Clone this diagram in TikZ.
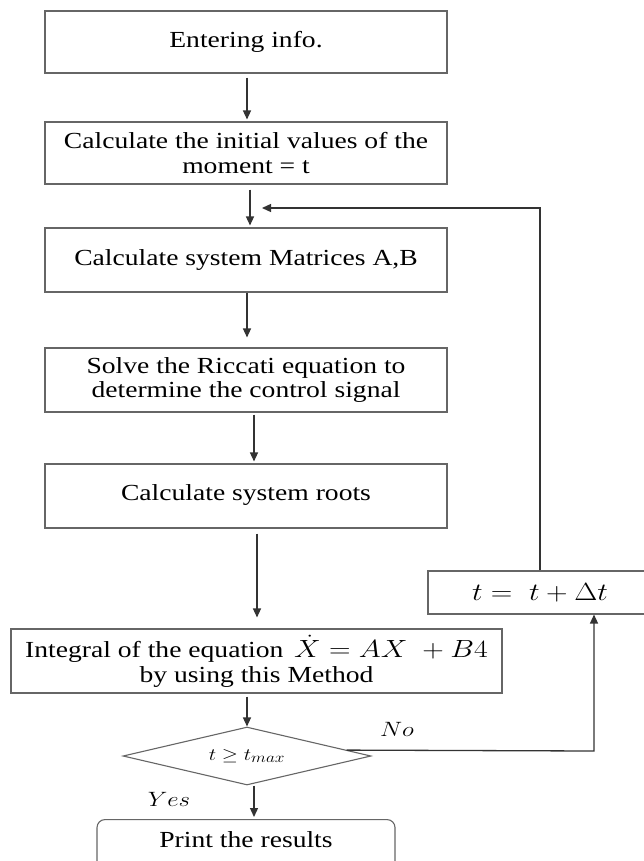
\documentclass[tikz,border=0pt]{standalone}
\usepackage{fontspec}
\setmainfont{Liberation Serif}[FakeStretch=1.2]
\usepackage{graphicx}
\usetikzlibrary{arrows.meta,shapes.geometric,calc}
\newcommand{\hs}[1]{\scalebox{1.2}[1]{#1}}
\begin{document}
\begin{tikzpicture}[x=1pt,y=-1pt,
  box/.style={draw=black!60, line width=1.1pt, rectangle, minimum width=402pt,
    minimum height=62pt, inner sep=0pt, align=center,
    font=\fontsize{23}{24.5}\selectfont},
  flow/.style={draw=black!80, line width=1.3pt, -{Triangle[length=9pt,width=8pt]}},
  lbl/.style={inner sep=0pt, font=\fontsize{21}{22}\selectfont},
]
\useasboundingbox (0,0) rectangle (643,861);
\fill[white] (0,0) rectangle (643,861);

\node[box] (b1) at (246,42) {\raisebox{5pt}{Entering info.}};
\node[box] (b2) at (246,153) {Calculate the initial values of the\\ moment = t};
\node[box, minimum height=64pt] (b3) at (246,260) {\raisebox{5pt}{Calculate system Matrices A,B}};
\node[box, minimum height=64pt] (b4) at (246,380) {Solve the Riccati equation to\\ determine the control signal};
\node[box, minimum height=64pt] (b5) at (246,496) {\raisebox{6pt}{Calculate system roots}};
\node[box, minimum width=491pt, minimum height=64pt] (b6) at (256.5,661)
  {Integral of the equation\, \hs{$\dot X = AX\ + B4$}\\ by using this Method};
\node[box, minimum width=224pt, minimum height=43pt] (tb) at (540,592.5) {\hs{$t =\ t + \Delta t$}};
\node[draw=black!60, line width=1.1pt, diamond, shape aspect=4.28, minimum width=248pt,
  minimum height=58pt, inner sep=0pt, font=\fontsize{19}{20}\selectfont] (d) at (247,756)
  {\hs{$t \geq t_{max}$}};
\node[draw=black!60, line width=1.1pt, rounded corners=8pt, minimum width=298pt, anchor=north,
  inner xsep=0pt, inner ysep=5pt, text height=23pt, text depth=40pt,
  font=\fontsize{23}{24}\selectfont] (pr) at (246,819) {Print the results};

\node[lbl] (yes) at (169,799) {\hs{$Yes$}};
\node[lbl] (no) at (397,729) {\hs{$No$}};

\draw[flow] ($(b1.south)+(1,4)$) -- ($(b2.north)+(1,-2)$);
\draw[flow] ($(b2.south)+(4,5)$) -- ($(b3.north)+(4,-2)$);
\draw[flow] ($(b3.south)+(1,0)$) -- ($(b4.north)+(1,-10)$);
\draw[flow] ($(b4.south)+(8,2)$) -- ($(b5.north)+(8,-2)$);
\draw[flow] ($(b5.south)+(11,5)$) -- ($(b6.north)+(0.5,-11)$);
\draw[flow] ($(b6.south)+(-9.5,3)$) -- (d.north);
\draw[flow] ($(d.south)+(7,0)$) -- ($(pr.north)+(8,-2)$);

\coordinate (fbend) at (262,208);
\draw[flow] (tb.north) -- (tb.north |- fbend) -- (fbend);

\coordinate (dno) at ($(d.north)!0.8!(d.east)$);
\coordinate (nocorner) at (594,751);
\draw[flow] (dno) -- (nocorner) -- (nocorner |- tb.south);
\end{tikzpicture}
\end{document}
